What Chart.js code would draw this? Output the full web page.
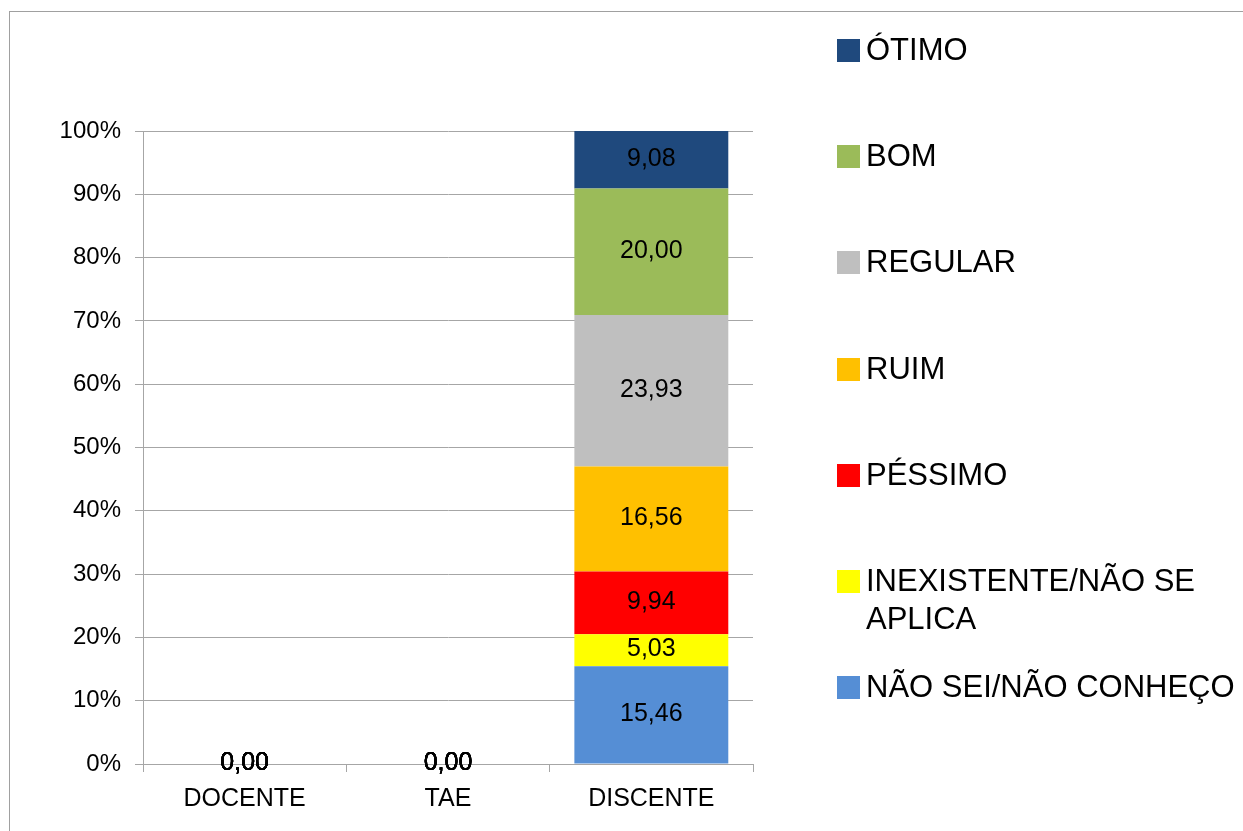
<!DOCTYPE html>
<html>
<head>
<meta charset="utf-8">
<script src="https://cdn.jsdelivr.net/npm/chart.js@4"></script>
<style>
    html, body { margin: 0; padding: 0; background: #fff; }
    #wrap { position: relative; width: 1243px; height: 831px; overflow: hidden; font-family: "Liberation Sans", Arial, sans-serif; }
    #frame { position: absolute; left: 9px; top: 11px; right: -10px; bottom: -10px; border-top: 1.5px solid #a0a0a0; border-left: 1.5px solid #a0a0a0; }
    #legend { position: absolute; left: 837px; top: 0; width: 406px; }
    .item { position: absolute; left: 0; display: flex; align-items: flex-start; }
    .sw { width: 23px; height: 23px; margin-top: 8px; flex: none; }
    .txt { margin-left: 6px; width: 377px; font-size: 31px; line-height: 38px; color: #000; }
    canvas { position: absolute; left: 0; top: 0; }
</style>
</head>
<body>
<div id="wrap">
    <div id="frame"></div>
    <canvas id="c" width="1243" height="831"></canvas>
    <div id="legend"></div>
</div>
<script>
// -----------------------------------------------------------------------------
//  Data (percent of respondents, stacked bottom -> top)
// -----------------------------------------------------------------------------
const CATEGORIES = ['DOCENTE', 'TAE', 'DISCENTE'];

const SERIES_NAMES = [
    'NÃO SEI/NÃO CONHEÇO',
    'INEXISTENTE/NÃO SE APLICA',
    'PÉSSIMO',
    'RUIM',
    'REGULAR',
    'BOM',
    'ÓTIMO'
];

const NAO_SEI     = [0, 0, 15.46];
const INEXISTENTE = [0, 0, 5.03];
const PESSIMO     = [0, 0, 9.94];
const RUIM        = [0, 0, 16.56];
const REGULAR     = [0, 0, 23.93];
const BOM         = [0, 0, 20.00];
const OTIMO       = [0, 0, 9.08];

const SERIES_VALUES = [NAO_SEI, INEXISTENTE, PESSIMO, RUIM, REGULAR, BOM, OTIMO];
const SERIES_COLORS = ['#558ED5', '#FFFF00', '#FF0000', '#FFC000', '#BFBFBF', '#9BBB59', '#1F497D'];

const Y_TICKS = [0, 10, 20, 30, 40, 50, 60, 70, 80, 90, 100];

// -----------------------------------------------------------------------------
const FONT = '"Liberation Sans", Arial, sans-serif';
const GRID = '#a6a6a6';

const fmt = v => v.toFixed(2).replace('.', ',');

// value labels centred in each segment
const segmentLabels = {
    id: 'segmentLabels',
    afterDatasetsDraw(chart) {
        const ctx = chart.ctx;
        ctx.save();
        ctx.font = '25px ' + FONT;
        ctx.fillStyle = '#000';
        ctx.textAlign = 'center';
        ctx.textBaseline = 'middle';
        chart.data.datasets.forEach((ds, i) => {
            const meta = chart.getDatasetMeta(i);
            meta.data.forEach((bar, j) => {
                const y = (bar.y + bar.base) / 2;
                ctx.fillText(fmt(ds.data[j]), bar.x, y - 1);
            });
        });
        ctx.restore();
    }
};

const datasets = SERIES_NAMES.map((name, i) => ({
    label: name,
    data: SERIES_VALUES[i],
    backgroundColor: SERIES_COLORS[i],
    borderWidth: 0,
    categoryPercentage: 1,
    barPercentage: 0.757
}));

new Chart(document.getElementById('c'), {
    type: 'bar',
    data: { labels: CATEGORIES, datasets },
    options: {
        responsive: false,
        animation: false,
        layout: { padding: { left: 0, right: 490, top: 131, bottom: 0 } },
        plugins: {
            legend: { display: false },
            tooltip: { enabled: false }
        },
        scales: {
            x: {
                stacked: true,
                afterFit: s => { s.height = 67; },
                grid: { display: true, drawOnChartArea: false, drawTicks: true, tickLength: 8, offset: true, color: GRID },
                border: { display: true, color: GRID, width: 1 },
                ticks: { color: '#000', font: { family: FONT, size: 25 }, padding: 12 }
            },
            y: {
                stacked: true,
                min: 0,
                max: 100,
                afterFit: s => { s.width = 143; },
                afterBuildTicks: s => { s.ticks = Y_TICKS.map(v => ({ value: v })); },
                grid: { color: GRID, lineWidth: 1, tickLength: 8 },
                border: { display: true, color: GRID, width: 1 },
                ticks: {
                    color: '#000',
                    font: { family: FONT, size: 24 },
                    padding: 14,
                    callback: v => v + '%'
                }
            }
        }
    },
    plugins: [segmentLabels]
});

// legend, top item = last series
const legend = document.getElementById('legend');
const order = SERIES_NAMES.map((_, i) => i).reverse();
order.forEach((idx, k) => {
    const item = document.createElement('div');
    item.className = 'item';
    item.style.top = (31 + k * 106.2) + 'px';
    item.innerHTML = '<span class="sw" style="background:' + SERIES_COLORS[idx] + '"></span>' +
                     '<span class="txt">' + SERIES_NAMES[idx] + '</span>';
    legend.appendChild(item);
});
</script>
</body>
</html>
